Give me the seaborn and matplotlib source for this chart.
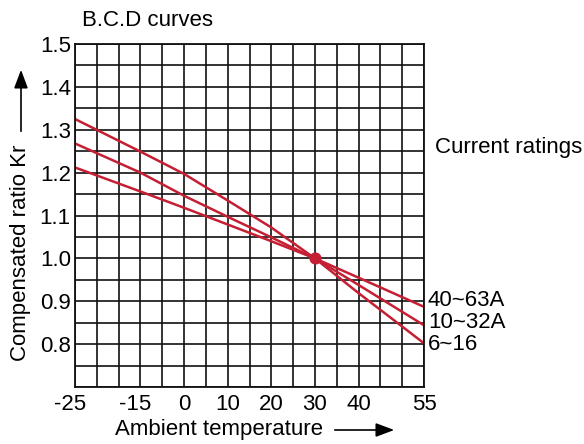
import numpy as np
import pandas as pd
import seaborn as sns
import matplotlib.pyplot as plt
import matplotlib.transforms as mtransforms
from matplotlib.patches import FancyArrowPatch

sns.set_style("white")
plt.rcParams['font.family'] = ['Liberation Sans', 'DejaVu Sans']
plt.rcParams['text.color'] = 'black'

# Data (temperature in deg C, compensated ratio Kr)
temps = [-25, -15, 0, 10, 20, 30, 40, 55]
kr_6_16 = [1.325, 1.249, 1.197, 1.135, 1.072, 1.0, 0.919, 0.802]
kr_10_32 = [1.268, 1.200, 1.146, 1.097, 1.049, 1.0, 0.938, 0.844]
kr_40_63 = [1.212, 1.156, 1.118, 1.079, 1.040, 1.0, 0.955, 0.887]
series_names = ["6~16", "10~32A", "40~63A"]
ref_point = (30, 1.0)

# x axis of the chart is schematic: tick labels sit on grid columns, not evenly spaced
tick_temps = [-25, -15, 0, 10, 20, 30, 40, 55]
tick_cols = [0, 3, 5, 7, 9, 11, 13, 16]


def forward(t):
    return np.interp(t, tick_temps, tick_cols)


def inverse(c):
    return np.interp(c, tick_cols, tick_temps)


df = pd.DataFrame({
    "temp": temps * 3,
    "kr": kr_6_16 + kr_10_32 + kr_40_63,
    "rating": np.repeat(series_names, len(temps)),
})

red = "#C41F33"
fs = 16
fig = plt.figure(figsize=(5.84, 4.44), dpi=100)
ax = fig.add_axes([75 / 584, 1 - 387 / 444, 349 / 584, 343 / 444])

sns.lineplot(data=df, x="temp", y="kr", units="rating", estimator=None,
             color=red, linewidth=1.8, sort=False, legend=False, ax=ax)
ax.scatter([ref_point[0]], [ref_point[1]], s=60, color=red, zorder=5)

ax.set_xscale("function", functions=(forward, inverse))
ax.set_xlim(-25, 55)
ax.set_ylim(0.7, 1.5)
ax.set_xticks(tick_temps)
ax.set_xticklabels([str(t) for t in tick_temps])
ax.set_xticks(inverse(np.arange(17)), minor=True)
ax.set_yticks([0.8, 0.9, 1.0, 1.1, 1.2, 1.3, 1.4, 1.5])
ax.set_yticklabels(["0.8", "0.9", "1.0", "1.1", "1.2", "1.3", "1.4", "1.5"])
ax.set_yticks(np.arange(0.7, 1.5001, 0.05), minor=True)
ax.grid(which="both", color="#111111", linewidth=1.2)
ax.tick_params(which="both", length=0, labelsize=fs, colors="black")
ax.tick_params(axis="x", pad=5)
ax.tick_params(axis="y", pad=3)
for sp in ax.spines.values():
    sp.set_color("#111111")
    sp.set_linewidth(1.3)
ax.set_xlabel("")
ax.set_ylabel("")

# negative labels sit a little left of their grid line in the original
shift = mtransforms.ScaledTranslation(-5 / 100, 0, fig.dpi_scale_trans)
for lbl in ax.get_xticklabels():
    if lbl.get_text().startswith("-"):
        lbl.set_transform(lbl.get_transform() + shift)

# curve labels at line ends
ends = {"40~63A": (kr_40_63[-1], 6), "10~32A": (kr_10_32[-1], 3), "6~16": (kr_6_16[-1], -1)}
for name, (yv, dy) in ends.items():
    ax.annotate(name, xy=(55, yv), xytext=(4, dy), textcoords="offset pixels",
                ha="left", va="center", fontsize=fs, annotation_clip=False)

fig.text(82 / 584, 1 - 20 / 444, "B.C.D curves", fontsize=fs, ha="left", va="center")
fig.text(435 / 584, 1 - 148 / 444, "Current ratings", fontsize=fs, ha="left", va="center")
fig.text(115 / 584, 1 - 429 / 444, "Ambient temperature", fontsize=fs, ha="left", va="center")
fig.text(21 / 584, 1 - 253 / 444, "Compensated ratio Kr", fontsize=fs,
         rotation=90, ha="center", va="center")

arrowstyle = "-|>,head_length=0.8,head_width=0.3"
fig.add_artist(FancyArrowPatch(
    (332 / 584, 1 - 430 / 444), (397 / 584, 1 - 430 / 444), transform=fig.transFigure,
    arrowstyle=arrowstyle, lw=1.2, color="black", mutation_scale=14))
fig.add_artist(FancyArrowPatch(
    (21 / 584, 1 - 134 / 444), (21 / 584, 1 - 67 / 444), transform=fig.transFigure,
    arrowstyle=arrowstyle, lw=1.2, color="black", mutation_scale=14))

fig.savefig("out.png", dpi=100)
